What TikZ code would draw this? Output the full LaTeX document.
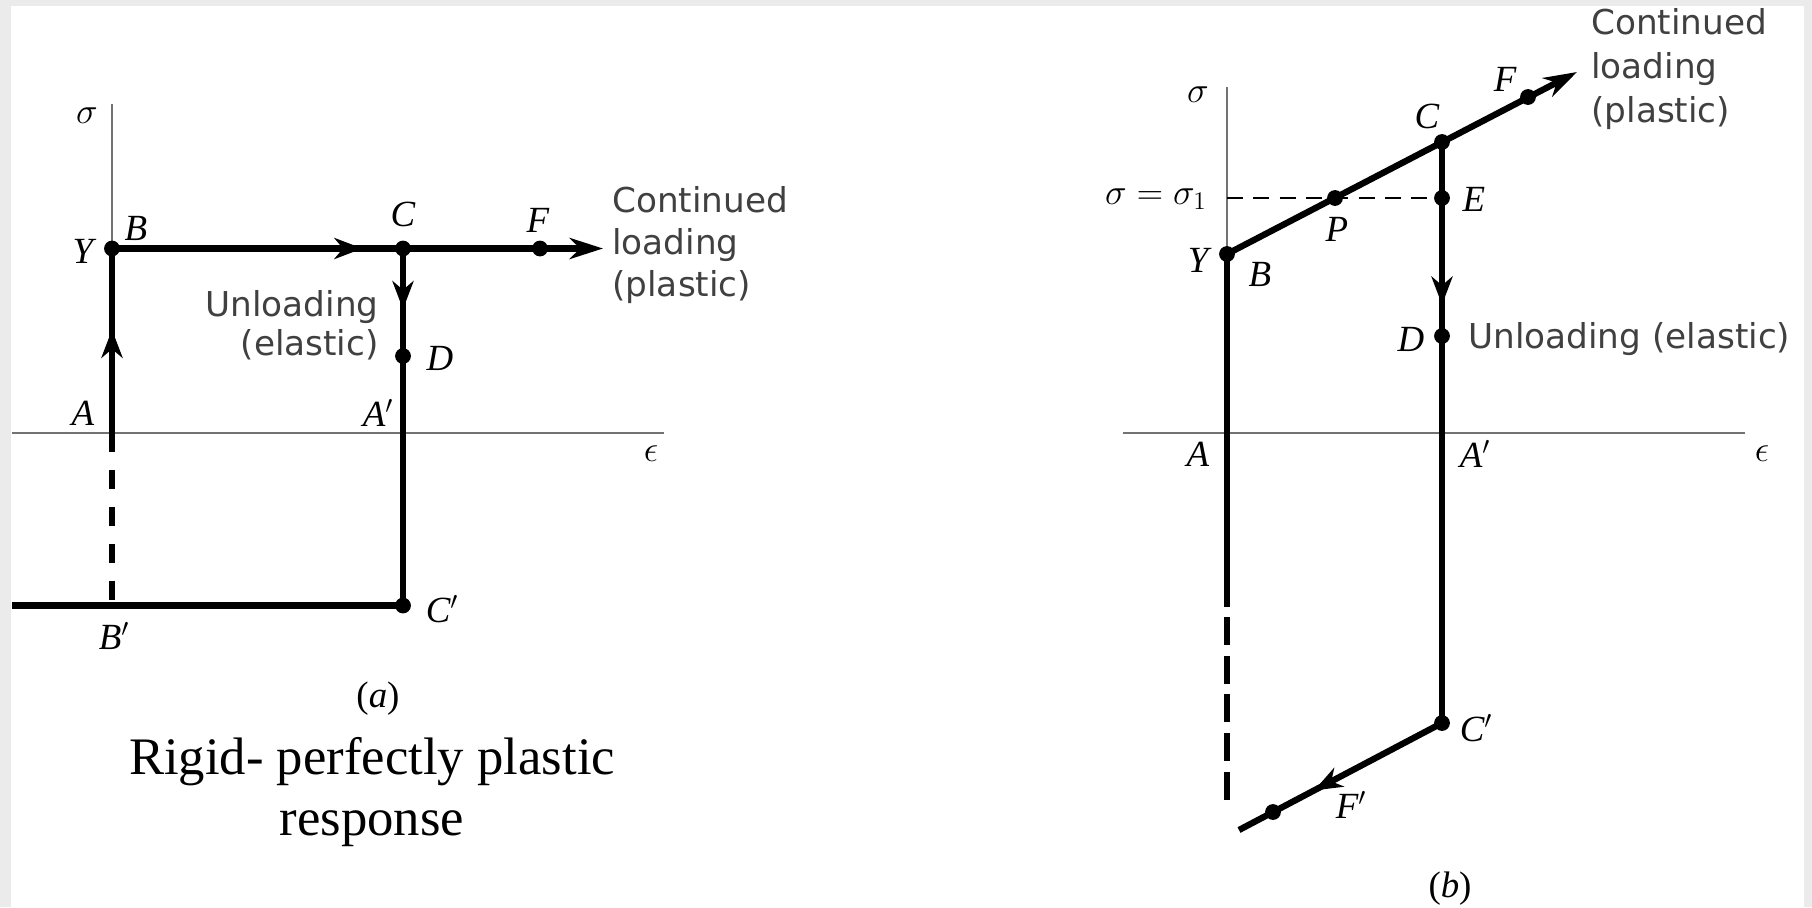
\documentclass[tikz,border=0pt]{standalone}
\usepackage{fontspec}
\setmainfont{Liberation Serif}
\newfontfamily\notefont{DejaVu Sans}
\usetikzlibrary{arrows.meta,decorations.markings}
\tikzset{
  axis/.style={line width=1.4pt, black!55},
  curve/.style={line width=3.6pt},
  dashcurve/.style={line width=3.6pt, dash pattern=on 11pt off 10pt},
  longdash/.style={line width=3.6pt, dash pattern=on 16pt off 6pt},
  guide/.style={line width=1.2pt, dash pattern=on 9pt off 6pt},
  dot/.style={circle, fill, inner sep=0pt, minimum size=9pt},
  pt/.style={font=\fontsize{21}{25}\selectfont\itshape, inner sep=0pt},
  tag/.style={font=\fontsize{21}{25}\selectfont, inner sep=0pt},
  note/.style={font=\notefont\fontsize{19.5}{24}\selectfont, text=black!75, inner sep=0pt},
  endarrow/.style={-{Stealth[length=19pt, width=12pt, inset=6pt]}},
  midarrow/.style={postaction={decorate}, decoration={markings, mark=at position #1 with {\arrow{Stealth[length=16pt, width=12pt, inset=5pt]}}}}
}
\begin{document}
\begin{tikzpicture}[x=0.02cm, y=-0.02cm]
  \useasboundingbox (0,0) rectangle (1812,907);
  \fill[black!8] (0,0) rectangle (1812,907);
  \fill[white] (11,6) rectangle (1804,907);

  % (a)
  \coordinate (aTop) at (112,104);
  \coordinate (aY) at (112,248.5);
  \coordinate (aA) at (112,433);
  \coordinate (aBp) at (112,605.5);
  \coordinate (aC) at (403,248.5);
  \coordinate (aF) at (540,248.5);
  \coordinate (aEnd) at (603,248.5);
  \coordinate (aD) at (403,356);
  \coordinate (aCp) at (403,605.5);
  \coordinate (aEl) at (12,433);
  \coordinate (aEr) at (664,433);
  \coordinate (aLeft) at (12,605.5);

  \draw[axis] (aTop) -- (aY);
  \draw[axis] (aEl) -- (aEr);
  \draw[curve, midarrow=0.56] (aA) -- (aY);
  \draw[curve, endarrow, midarrow=0.51] (aY) -- (aEnd);
  \draw[curve, midarrow=0.17] (aC) -- (aCp);
  \draw[dashcurve] (aA) -- (aBp);
  \draw[curve] (aLeft) -- (aCp);
  \foreach \p in {aY, aC, aF, aD, aCp}
    \node[dot] (\p-d) at (\p) {};

  \node[pt] (aSig) at (87,116) {$\sigma$};
  \node[pt] (aYlab) at (83,251) {Y};
  \node[pt] (aBlab) at (136,228) {B};
  \node[pt] (aClab) at (403,214) {C};
  \node[pt] (aFlab) at (538,220) {F};
  \node[pt] (aDlab) at (440,358) {D};
  \node[pt] (aAlab) at (83,413) {A};
  \node[pt] (aAplab) at (378,413) {A$'$};
  \node[pt] (aEps) at (651,454) {$\epsilon$};
  \node[pt] (aBplab) at (114,636) {B$'$};
  \node[pt] (aCplab) at (442,609) {C$'$};
  \node[note, anchor=west, align=left, font=\notefont\fontsize{19.5}{24}\selectfont] (aCont) at (612,245) {Continued\\loading\\(plastic)};
  \node[note, anchor=east, align=right, font=\notefont\fontsize{19.5}{22}\selectfont] (aUnl) at (379,325) {Unloading\\(elastic)};
  \node[tag] (aCap) at (378,699) {(\textit{a})};
  \node[font=\fontsize{30}{35}\selectfont, align=center, inner sep=0pt] (aTitle) at (372,792) {Rigid- perfectly plastic\\response};

  % (b)
  \coordinate (bTop) at (1227,87);
  \coordinate (bY) at (1227,254);
  \coordinate (bA) at (1227,433);
  \coordinate (bSolid) at (1227,607);
  \coordinate (bDash) at (1227,617);
  \coordinate (bDashEnd) at (1227,809);
  \coordinate (bS) at (1227,198);
  \coordinate (bP) at (1335,198);
  \coordinate (bE) at (1442,198);
  \coordinate (bC) at (1442,142);
  \coordinate (bF) at (1528,97);
  \coordinate (bEnd) at (1577,72);
  \coordinate (bD) at (1442,336);
  \coordinate (bCp) at (1442,723);
  \coordinate (bFp) at (1273,812);
  \coordinate (bLow) at (1239,830);
  \coordinate (bEl) at (1123,433);
  \coordinate (bEr) at (1745,433);

  \draw[axis] (bTop) -- (bY);
  \draw[axis] (bEl) -- (bEr);
  \draw[guide] (bS) -- (bE);
  \draw[curve, endarrow] (bY) -- (bEnd);
  \draw[curve, midarrow=0.28] (bC) -- (bCp);
  \draw[curve, midarrow=0.63] (bCp) -- (bLow);
  \draw[curve] (bY) -- (bSolid);
  \draw[longdash] (bDash) -- (bDashEnd);
  \foreach \p in {bY, bP, bE, bC, bF, bD, bCp, bFp}
    \node[dot] (\p-d) at (\p) {};

  \node[pt] (bSig) at (1198,95) {$\sigma$};
  \node[tag, anchor=east] (bSig1) at (1207,199) {$\sigma=\sigma_1$};
  \node[pt] (bYlab) at (1198,260) {Y};
  \node[pt] (bBlab) at (1260,274) {B};
  \node[pt] (bPlab) at (1337,229) {P};
  \node[pt] (bElab) at (1474,199) {E};
  \node[pt] (bClab) at (1427,116) {C};
  \node[pt] (bFlab) at (1505,79) {F};
  \node[pt] (bDlab) at (1411,339) {D};
  \node[pt] (bAlab) at (1198,454) {A};
  \node[pt] (bAplab) at (1475,454) {A$'$};
  \node[pt] (bEps) at (1762,454) {$\epsilon$};
  \node[pt] (bCplab) at (1476,728) {C$'$};
  \node[pt] (bFplab) at (1351,805) {F$'$};
  \node[note, anchor=west, align=left, font=\notefont\fontsize{19.5}{25}\selectfont] (bCont) at (1591,69) {Continued\\loading\\(plastic)};
  \node[note, anchor=west] (bUnl) at (1468,339) {Unloading (elastic)};
  \node[tag] (bCap) at (1450,889) {(\textit{b})};
\end{tikzpicture}
\end{document}
